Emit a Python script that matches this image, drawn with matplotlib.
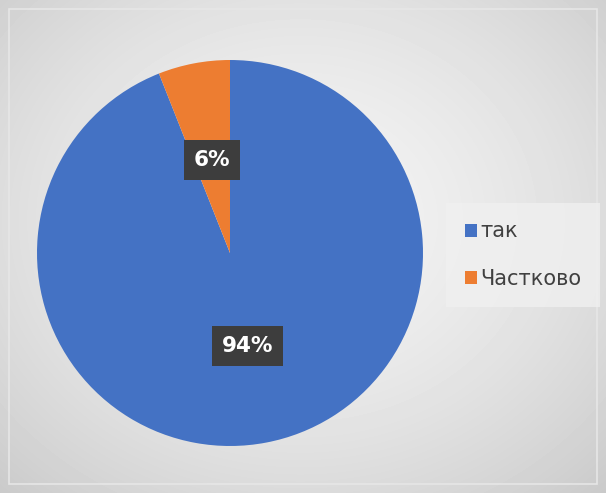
import numpy as np
import matplotlib.pyplot as plt
from matplotlib.patches import Rectangle

labels = ['так', 'Частково']
values = [94, 6]
colors = ['#4472C4', '#ED7D31']

W, H = 606, 493
fig = plt.figure(figsize=(W / 100, H / 100), dpi=100)

# radial grey background
bg = fig.add_axes([0, 0, 1, 1])
yy, xx = np.mgrid[0:H, 0:W]
d = np.sqrt(((xx - 300) / 400.0) ** 2 + ((yy - 220) / 340.0) ** 2)
shade = np.clip(0.955 - 0.14 * d ** 1.6, 0.79, 0.96)
bg.imshow(shade, cmap='gray', vmin=0, vmax=1, extent=[0, W, H, 0], aspect='auto')
bg.add_patch(Rectangle((9, 9), W - 18, H - 18, fill=False, ec='#e6e6e6', lw=1.2))
bg.set_xlim(0, W)
bg.set_ylim(H, 0)
bg.axis('off')

# pie, centre ~ (230, 253) px, radius ~ 193 px
ax = fig.add_axes([37 / W, (H - 446) / H, 386 / W, 386 / H])
wedges, texts, autotexts = ax.pie(values, colors=colors, startangle=90, counterclock=False,
                                  autopct='%d%%', pctdistance=0.49,
                                  textprops=dict(color='white', fontsize=15.5, fontweight='bold'))
for t in autotexts:
    t.set_bbox(dict(boxstyle='square,pad=0.45', fc='#3d3d3d', ec='none'))
ax.set_xlim(-1, 1)
ax.set_ylim(-1, 1)
ax.set_aspect('equal')

leg = fig.legend(wedges, labels, loc='center left', bbox_to_anchor=(446 / W, 1 - 255 / H),
                 borderaxespad=0, frameon=True, fontsize=15, handlelength=0.6,
                 handleheight=0.6, handletextpad=0.15, labelspacing=1.3, borderpad=0.9,
                 fancybox=False)
leg.get_frame().set_facecolor('#f0f0f0')
leg.get_frame().set_edgecolor('none')
for t in leg.get_texts():
    t.set_color('#404040')

fig.savefig('out.png', dpi=100)
